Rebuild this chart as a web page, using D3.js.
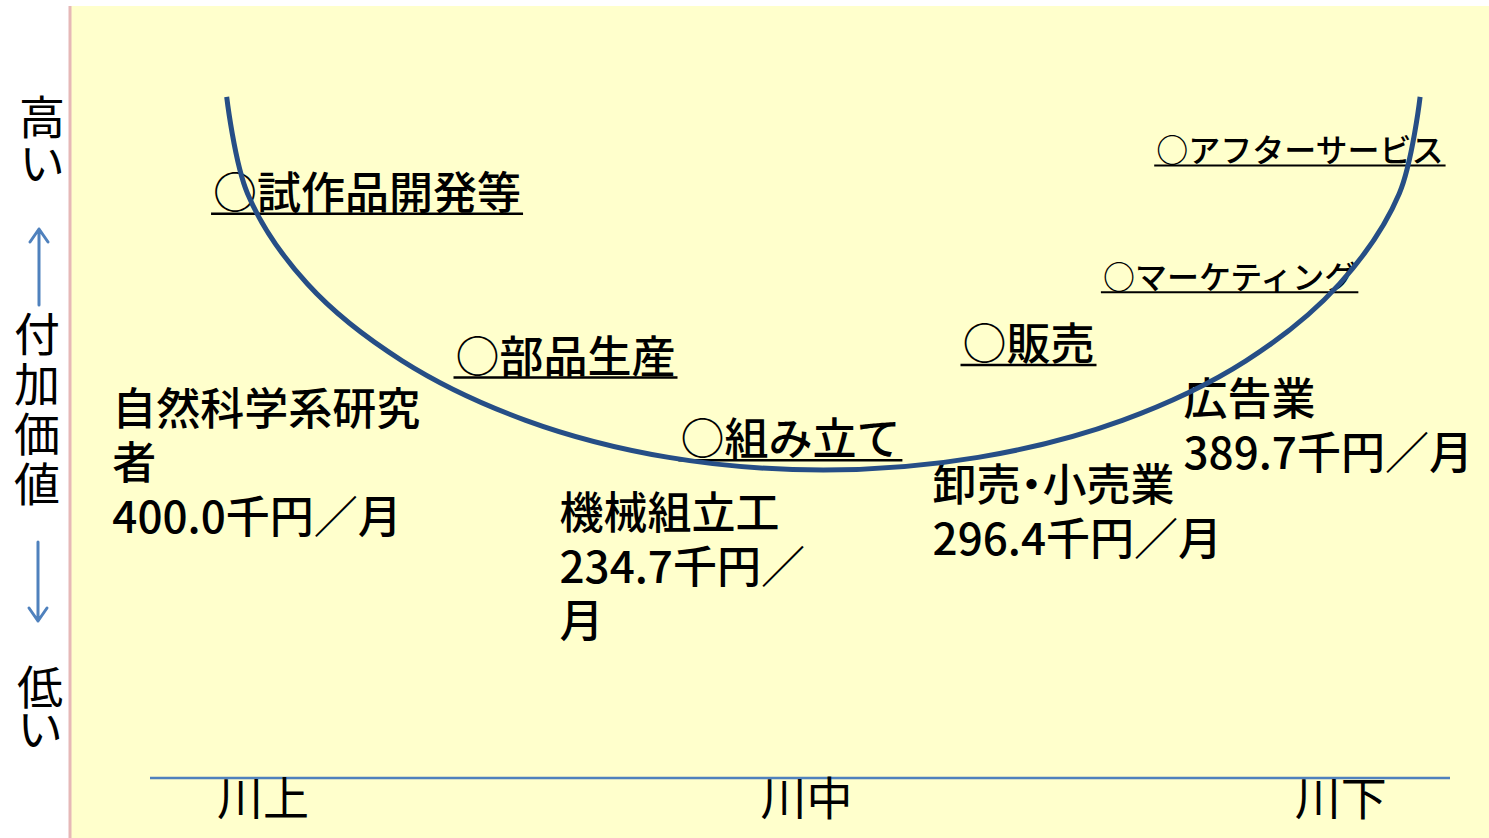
<!DOCTYPE html>
<html>
<head>
<meta charset="utf-8">
<script src="https://cdn.jsdelivr.net/npm/d3@7"></script>
<style>
  html, body { margin: 0; padding: 0; background: #ffffff; }
  svg { display: block; font-family: "Noto Sans CJK JP", "Noto Sans", sans-serif; }
  .occupation { font-feature-settings: "palt"; }
</style>
</head>
<body>
<svg id="chart" width="1489" height="838"></svg>
<script>
// ---- Data -------------------------------------------------------------
// Stages of the value chain along the horizontal axis (0 = upstream, 100 = downstream)
const stages = ["川上", "川中", "川下"];
const stagePositions = [8.7, 50.5, 91.6];

// Smile curve: position along the chain and relative value added (0-100)
const curveChain = [5.9, 7.5, 12.1, 19.4, 28.9, 39.9, 51.8, 63.7, 74.8, 84.3, 91.5, 96.1, 97.7];
const curveValue = [97.3, 83.5, 70.6, 59.6, 51.1, 45.8, 44.0, 45.8, 51.1, 59.6, 70.6, 83.5, 97.3];

// Business activities placed along the curve
const activities = ["試作品開発等", "部品生産", "組み立て", "販売", "マーケティング", "アフターサービス"];
const activityChain = [4.85, 23.5, 40.8, 62.5, 73.3, 77.4];
const activityValue = [81.3, 57.9, 46.1, 59.7, 69.9, 88.0];

// Occupations and their monthly wages (thousand yen)
const occupations = ["自然科学系研究者", "機械組立工", "卸売・小売業", "広告業"];
const wages = [400.0, 234.7, 296.4, 389.7];
const occupationChain = [-2.9, 31.5, 60.2, 79.5];
const occupationValue = [50.4, 35.6, 39.6, 51.9];

// Vertical axis wording
const valueTitle = "付加価値";
const valueHigh = "高い";
const valueLow = "低い";

// ---- Layout & style ---------------------------------------------------
const W = 1489, H = 838;
const activityFontSize = [44, 44, 44, 44, 32, 32];
const occupationWrap = [330, 250, 300, 300];
const bigFont = 44, lineGap = 54;
const curveColor = "#264e86";
const axisColor = "#4f81bd";
const textWeight = 500;

const svg = d3.select("#chart");
const x = d3.scaleLinear().domain([0, 100]).range([150, 1450]);
const y = d3.scaleLinear().domain([0, 100]).range([778, 78]);

// panel background and left rule
svg.append("rect").attr("x", 71).attr("y", 6).attr("width", W - 71).attr("height", H - 6)
  .attr("fill", "#ffffcc");
svg.append("line").attr("x1", 70).attr("x2", 70).attr("y1", 6).attr("y2", H)
  .attr("stroke", "#e6b8b7").attr("stroke-width", 3);

// horizontal axis line with stage labels
svg.append("line")
  .attr("x1", x(0)).attr("x2", x(100))
  .attr("y1", y(0)).attr("y2", y(0))
  .attr("stroke", axisColor).attr("stroke-width", 2.5);

svg.append("g").selectAll("text").data(stages).join("text")
  .attr("x", (d, i) => x(stagePositions[i]))
  .attr("y", y(0) + 37)
  .attr("text-anchor", "middle")
  .attr("font-size", 46)
  .attr("font-weight", 400)
  .attr("fill", "#000")
  .text(d => d);

// vertical axis: upright vertical text and arrows
function verticalText(str, cx, top, size, pitch) {
  svg.append("text")
    .attr("x", cx).attr("y", top)
    .style("writing-mode", "vertical-rl")
    .style("text-orientation", "upright")
    .style("letter-spacing", (pitch - size) + "px")
    .attr("font-size", size)
    .attr("fill", "#000")
    .text(str);
}
verticalText(valueHigh, 42, 94, 46, 46);
verticalText(valueTitle, 37, 311, 46, 50);
verticalText(valueLow, 40, 664, 46, 42);

function arrow(x0, yFrom, yTo) {
  const dir = yTo < yFrom ? 1 : -1;
  const p = d3.path();
  p.moveTo(x0, yFrom); p.lineTo(x0, yTo);
  p.moveTo(x0 - 9, yTo + dir * 13); p.lineTo(x0, yTo); p.lineTo(x0 + 9, yTo + dir * 13);
  svg.append("path").attr("d", p.toString())
    .attr("fill", "none").attr("stroke", axisColor)
    .attr("stroke-width", 3).attr("stroke-linecap", "round").attr("stroke-linejoin", "round");
}
arrow(39, 305, 229);
arrow(38, 542, 621);

// occupation wage labels with simple wrapping
const measure = svg.append("text").attr("class", "occupation")
  .attr("font-size", bigFont).attr("font-weight", textWeight)
  .attr("visibility", "hidden");
function wrap(str, maxW) {
  const lines = [];
  let cur = "";
  for (const ch of Array.from(str)) {
    measure.text(cur + ch);
    if (cur && measure.node().getComputedTextLength() > maxW) { lines.push(cur); cur = ch; }
    else cur += ch;
  }
  if (cur) lines.push(cur);
  return lines;
}
occupations.forEach((name, i) => {
  const label = wrap(name, occupationWrap[i])
    .concat(wrap(wages[i].toFixed(1) + "千円／月", occupationWrap[i]));
  const t = svg.append("text")
    .attr("class", "occupation")
    .attr("x", x(occupationChain[i]))
    .attr("y", y(occupationValue[i]))
    .attr("font-size", bigFont)
    .attr("font-weight", textWeight)
    .attr("fill", "#000");
  label.forEach((ln, k) => {
    t.append("tspan").attr("x", x(occupationChain[i])).attr("dy", k === 0 ? 0 : lineGap).text(ln);
  });
});
measure.remove();

// underlined activity labels
activities.forEach((name, i) => {
  const fs = activityFontSize[i];
  const tx = x(activityChain[i]), ty = y(activityValue[i]);
  const t = svg.append("text")
    .attr("x", tx).attr("y", ty)
    .attr("font-size", fs)
    .attr("font-weight", textWeight)
    .attr("fill", "#000")
    .text("○" + name);
  const len = t.node().getComputedTextLength();
  svg.append("line")
    .attr("x1", tx - 2).attr("x2", tx + len + 2)
    .attr("y1", ty + fs * 0.11).attr("y2", ty + fs * 0.11)
    .attr("stroke", "#000").attr("stroke-width", fs > 40 ? 2.5 : 2);
});

// smile curve drawn on top
const pts = curveChain.map((c, i) => [c, curveValue[i]]);
svg.append("path")
  .datum(pts)
  .attr("d", d3.line().x(d => x(d[0])).y(d => y(d[1])).curve(d3.curveCatmullRom.alpha(0.5)))
  .attr("fill", "none")
  .attr("stroke", curveColor)
  .attr("stroke-width", 5);
</script>
</body>
</html>
